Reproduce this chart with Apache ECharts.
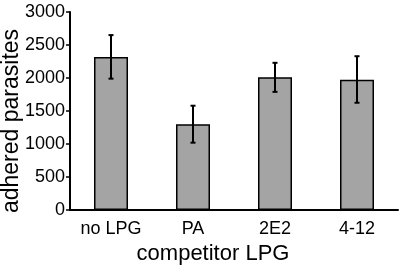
<!DOCTYPE html>
<html>
<head>
<meta charset="utf-8">
<script src="https://cdn.jsdelivr.net/npm/echarts@6/dist/echarts.min.js"></script>
<style>
  html, body { margin: 0; padding: 0; background: #fff; }
  #chart { width: 400px; height: 265px; }
</style>
</head>
<body>
<div id="chart"></div>
<script>
  // 数据
  var categories = ["no LPG", "PA", "2E2", "4-12"];
  var means = [2320, 1300, 2010, 1975];
  var errLow = [1990, 1020, 1790, 1625];
  var errHigh = [2650, 1580, 2230, 2330];
  var yTicks = [0, 500, 1000, 1500, 2000, 2500, 3000];

  var myChart = echarts.init(document.getElementById("chart"), null, { renderer: "canvas" });
  var font = "Liberation Sans, Arial, Helvetica, sans-serif";

  var errData = categories.map(function (c, i) {
    return [i, errLow[i], errHigh[i]];
  });

  var option = {
    animation: false,
    grid: { left: 70, right: 2, top: 12, bottom: 55, containLabel: false, outerBoundsMode: "none" },
    xAxis: {
      type: "category",
      data: categories,
      name: "competitor LPG",
      nameLocation: "middle",
      nameGap: 33,
      nameMoveOverlap: false,
      nameTextStyle: { color: "#000", fontSize: 22, fontFamily: font, padding: [0, 42, 0, 0] },
      axisLine: { lineStyle: { color: "#000", width: 2 } },
      axisTick: { show: false },
      axisLabel: { color: "#000", fontSize: 18, fontFamily: font, margin: 10 }
    },
    yAxis: {
      type: "value",
      min: yTicks[0],
      max: yTicks[yTicks.length - 1],
      interval: 500,
      name: "adhered parasites",
      nameLocation: "middle",
      nameGap: 47,
      nameMoveOverlap: false,
      nameTextStyle: { color: "#000", fontSize: 23, fontFamily: font, padding: [0, 20, 0, 0] },
      axisLine: { show: true, lineStyle: { color: "#000", width: 2 } },
      axisTick: { show: true, length: 4, lineStyle: { color: "#000", width: 1.5 } },
      axisLabel: {
        color: "#000", fontSize: 18, fontFamily: font, margin: 5,
        formatter: function (v) { return String(v); }
      },
      splitLine: { show: false }
    },
    series: [
      {
        type: "bar",
        data: means,
        barWidth: 34,
        itemStyle: { color: "#a4a4a4", borderColor: "#000", borderWidth: 1.5 }
      },
      {
        type: "custom",
        data: errData,
        z: 10,
        renderItem: function (params, api) {
          var x = api.coord([api.value(0), 0])[0];
          var lo = api.coord([api.value(0), api.value(1)])[1];
          var hi = api.coord([api.value(0), api.value(2)])[1];
          var cap = 2.5;
          var style = { stroke: "#000", lineWidth: 2 };
          return {
            type: "group",
            children: [
              { type: "line", shape: { x1: x, y1: lo, x2: x, y2: hi }, style: style },
              { type: "line", shape: { x1: x - cap, y1: hi, x2: x + cap, y2: hi }, style: style },
              { type: "line", shape: { x1: x - cap, y1: lo, x2: x + cap, y2: lo }, style: style }
            ]
          };
        }
      }
    ]
  };

  myChart.setOption(option);
</script>
</body>
</html>
